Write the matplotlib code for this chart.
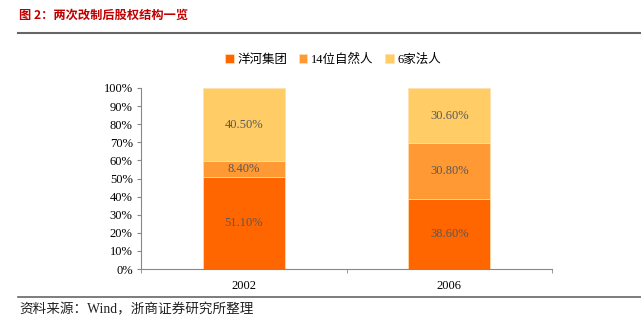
import matplotlib.pyplot as plt
import numpy as np

years = ['2002', '2006']
series_names = ['洋河集团', '14位自然人', '6家法人']
yanghe = [51.1, 38.6]
persons = [8.4, 30.8]
companies = [40.5, 30.6]
colors = ['#FF6600', '#FF9933', '#FFCC66']

fonts = ['Liberation Serif', 'Noto Sans CJK SC']
plt.rcParams['font.family'] = fonts

fig = plt.figure(figsize=(6.41, 3.32), dpi=100)
ax = fig.add_axes([141 / 641, 1 - 269 / 332, 411 / 641, 181 / 332])

x = np.arange(len(years))
bottom = np.zeros(len(years))
for name, vals, c in zip(series_names, [yanghe, persons, companies], colors):
    vals = np.array(vals)
    ax.bar(x, vals, 0.4, bottom=bottom, color=c, label=name,
           edgecolor='#FFE0B0', linewidth=0.5)
    for xi, b, v in zip(x, bottom, vals):
        ax.text(xi, b + v / 2, f'{v:.2f}%', ha='center', va='center',
                fontsize=9, color='#595959')
    bottom += vals

ax.set_xlim(-0.5, 1.5)
ax.set_ylim(0, 100)
ax.set_yticks(np.arange(0, 101, 10))
ax.set_yticklabels([f'{v}%' for v in range(0, 101, 10)], fontsize=9)
ax.set_xticks(x)
ax.set_xticklabels(years, fontsize=9)
ax.tick_params(axis='x', length=0, pad=8)
ax.set_xticks([-0.5, 0.5, 1.5], minor=True)
ax.tick_params(axis='x', which='minor', length=3, color='#888888')
ax.tick_params(axis='y', length=3, color='#888888', pad=3)
for s in ['top', 'right']:
    ax.spines[s].set_visible(False)
for s in ['left', 'bottom']:
    ax.spines[s].set_color('#888888')

ax.legend(loc='center', bbox_to_anchor=(333 / 641, 1 - 60 / 332),
          bbox_transform=fig.transFigure, ncol=3, frameon=False,
          fontsize=9, handlelength=0.7, handleheight=0.7,
          columnspacing=0.9, handletextpad=0.3)

fig.text(19 / 641, 1 - 15 / 332, '图 2：两次改制后股权结构一览', fontsize=8.8,
         fontweight='bold', color='#C00000', va='center',
         family=['Noto Sans CJK SC'])
fig.add_artist(plt.Line2D([18 / 641, 1], [1 - 33 / 332] * 2,
                          color='#666666', linewidth=1.5))
fig.add_artist(plt.Line2D([18 / 641, 1], [1 - 297 / 332] * 2,
                          color='#666666', linewidth=1.2))
fig.text(19 / 641, 1 - 310 / 332, '资料来源：Wind，浙商证券研究所整理',
         fontsize=9.8, va='center', color='#222222')

fig.savefig('out.png', dpi=100)
